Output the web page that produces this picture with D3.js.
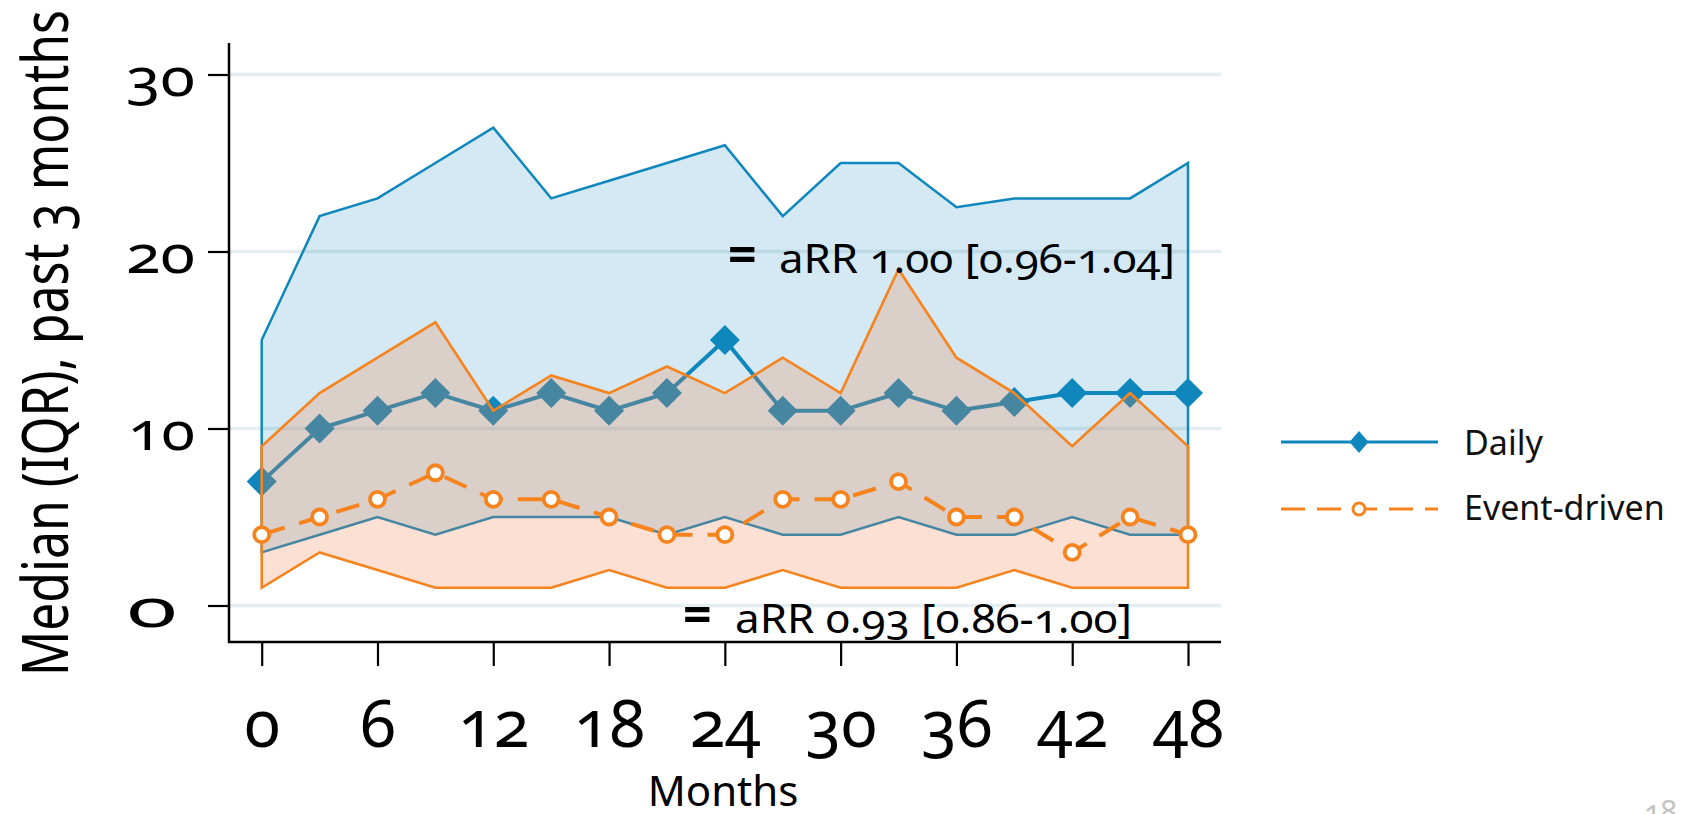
<!DOCTYPE html>
<html>
<head>
<meta charset="utf-8">
<script src="https://cdn.jsdelivr.net/npm/d3@7"></script>
<style>
  html, body { margin: 0; padding: 0; background: #ffffff; }
  svg { display: block; }
  text { font-family: "Noto Sans", "Open Sans", sans-serif; font-variant-numeric: oldstyle-nums; font-feature-settings: "onum" 1; }
</style>
</head>
<body>
<svg id="chart" width="1684" height="814"></svg>
<script>
// ---------------- data ----------------
const months      = [0, 3, 6, 9, 12, 15, 18, 21, 24, 27, 30, 33, 36, 39, 42, 45, 48];
const dailyMedian = [7, 10, 11, 12, 11, 12, 11, 12, 15, 11, 11, 12, 11, 11.5, 12, 12, 12];
const dailyQ1     = [3, 4, 5, 4, 5, 5, 5, 4, 5, 4, 4, 5, 4, 4, 5, 4, 4];
const dailyQ3     = [15, 22, 23, 25, 27, 23, 24, 25, 26, 22, 25, 25, 22.5, 23, 23, 23, 25];
const eventMedian = [4, 5, 6, 7.5, 6, 6, 5, 4, 4, 6, 6, 7, 5, 5, 3, 5, 4];
const eventQ1     = [1, 3, 2, 1, 1, 1, 2, 1, 1, 2, 1, 1, 1, 2, 1, 1, 1];
const eventQ3     = [9, 12, 14, 16, 11, 13, 12, 13.5, 12, 14, 12, 19, 14, 12, 9, 12, 9];
const xTicks      = [0, 6, 12, 18, 24, 30, 36, 42, 48];
const yTicks      = [0, 10, 20, 30];
const seriesNames = ["Daily", "Event-driven"];
const annotations = [
  { eq: "=", text: "aRR 1.00 [0.96-1.04]" },
  { eq: "=", text: "aRR 0.93 [0.86-1.00]" }
];
const yTitle = "Median (IQR), past 3 months";
const xTitle = "Months";
const pageNumber = "18";

// ---------------- styles ----------------
const BLUE = "#0f87bd";
const ORANGE = "#f5841f";
const ORANGE_FILL = "rgb(240,133,78)";

const svg = d3.select("#chart");
const x = d3.scaleLinear().domain([0, 48]).range([261.7, 1188]);
const y = d3.scaleLinear().domain([0, 30]).range([605.5, 74.5]);
const AX_LEFT = 229, AX_RIGHT = 1221, AX_TOP = 43, AX_BOTTOM = 642;

const rows = months.map((m, i) => ({
  m, dMed: dailyMedian[i], dLo: dailyQ1[i], dHi: dailyQ3[i],
  eMed: eventMedian[i], eLo: eventQ1[i], eHi: eventQ3[i]
}));

// gridlines
svg.append("g").selectAll("line").data(yTicks).join("line")
  .attr("x1", AX_LEFT).attr("x2", AX_RIGHT)
  .attr("y1", d => y(d)).attr("y2", d => y(d))
  .attr("stroke", "#e4edf0").attr("stroke-width", 3.5);

// blue IQR band
const bandD = d3.area().x(d => x(d.m)).y0(d => y(d.dLo)).y1(d => y(d.dHi));
svg.append("path").datum(rows).attr("d", bandD)
  .attr("fill", BLUE).attr("fill-opacity", 0.18)
  .attr("stroke", BLUE).attr("stroke-width", 2.5).attr("stroke-linejoin", "miter");

// blue median
svg.append("path").datum(rows)
  .attr("d", d3.line().x(d => x(d.m)).y(d => y(d.dMed)))
  .attr("fill", "none").attr("stroke", BLUE).attr("stroke-width", 4);
const diamond = (h, v) => `M0,${-v}L${h},0L0,${v}L${-h},0Z`;
svg.append("g").selectAll("path").data(rows).join("path")
  .attr("transform", d => `translate(${x(d.m)},${y(d.dMed)})`)
  .attr("d", diamond(15, 15)).attr("fill", BLUE);

// orange IQR band (drawn over the blue series)
const bandE = d3.area().x(d => x(d.m)).y0(d => y(d.eLo)).y1(d => y(d.eHi));
svg.append("path").datum(rows).attr("d", bandE)
  .attr("fill", ORANGE_FILL).attr("fill-opacity", 0.25).attr("stroke", "none");
svg.append("path").datum(rows).attr("d", bandE)
  .attr("fill", "none").attr("stroke", ORANGE).attr("stroke-width", 2.6);

// orange median (dashed)
svg.append("path").datum(rows)
  .attr("d", d3.line().x(d => x(d.m)).y(d => y(d.eMed)))
  .attr("fill", "none").attr("stroke", ORANGE).attr("stroke-width", 4)
  .attr("stroke-dasharray", "24,15");
svg.append("g").selectAll("circle").data(rows).join("circle")
  .attr("cx", d => x(d.m)).attr("cy", d => y(d.eMed)).attr("r", 7.5)
  .attr("fill", "#fff").attr("stroke", ORANGE).attr("stroke-width", 3.8);

// axes
const yAxis = svg.append("g").attr("transform", `translate(${AX_LEFT},0)`)
  .call(d3.axisLeft(y).tickValues(yTicks).tickSize(21).tickFormat(d3.format("d")));
yAxis.select(".domain").remove();
yAxis.selectAll(".tick line").attr("stroke", "#000").attr("stroke-width", 2.2);
const yLen = { "0": 50, "10": 67, "20": 69, "30": 69 };
yAxis.selectAll(".tick text")
  .attr("x", d => d === 0 ? -52 : -34).attr("dy", 0).attr("y", 21)
  .attr("font-size", 52).attr("fill", "#000").attr("font-family", null)
  .attr("text-anchor", "end")
  .attr("textLength", d => yLen[String(d)])
  .attr("lengthAdjust", "spacingAndGlyphs");

const xAxis = svg.append("g").attr("transform", `translate(0,${AX_BOTTOM})`)
  .call(d3.axisBottom(x).tickValues(xTicks).tickSize(24).tickFormat(d3.format("d")));
xAxis.select(".domain").remove();
xAxis.selectAll(".tick line").attr("stroke", "#000").attr("stroke-width", 2.2);
xAxis.selectAll(".tick text")
  .attr("y", 105).attr("dy", 0)
  .attr("font-size", 65).attr("fill", "#000").attr("font-family", null);

// axis lines
svg.append("line").attr("x1", AX_LEFT).attr("x2", AX_LEFT).attr("y1", AX_TOP).attr("y2", AX_BOTTOM + 1)
  .attr("stroke", "#000").attr("stroke-width", 2.5);
svg.append("line").attr("x1", AX_LEFT - 1).attr("x2", AX_RIGHT).attr("y1", AX_BOTTOM).attr("y2", AX_BOTTOM)
  .attr("stroke", "#000").attr("stroke-width", 2.5);

// axis titles
svg.append("text").text(yTitle)
  .attr("transform", "translate(68,343) rotate(-90)")
  .attr("text-anchor", "middle").attr("font-size", 64)
  .attr("textLength", 666).attr("lengthAdjust", "spacingAndGlyphs");
svg.append("text").text(xTitle)
  .attr("x", 723).attr("y", 806).attr("text-anchor", "middle").attr("font-size", 42);

// legend
const leg = svg.append("g");
const legY = [442, 509];
leg.append("line").attr("x1", 1281).attr("x2", 1438).attr("y1", legY[0]).attr("y2", legY[0])
  .attr("stroke", BLUE).attr("stroke-width", 3);
leg.append("path").attr("transform", `translate(1359,${legY[0]})`).attr("d", diamond(9.5, 11)).attr("fill", BLUE);
leg.append("line").attr("x1", 1281).attr("x2", 1438).attr("y1", legY[1]).attr("y2", legY[1])
  .attr("stroke", ORANGE).attr("stroke-width", 3).attr("stroke-dasharray", "24,12");
leg.append("circle").attr("cx", 1359).attr("cy", legY[1]).attr("r", 6)
  .attr("fill", "#fff").attr("stroke", ORANGE).attr("stroke-width", 3);
leg.selectAll("text.lab").data(seriesNames).join("text").attr("class", "lab")
  .attr("x", 1464).attr("y", (d, i) => [455, 520][i])
  .attr("font-size", 34).attr("fill", "#111").text(d => d);

// annotations
const annPos = [
  { eqX: 728, txtX: 779, base: 273, len: 396 },
  { eqX: 683, txtX: 735, base: 633, len: 397 }
];
annotations.forEach((a, i) => {
  const p = annPos[i];
  svg.append("text").attr("x", p.eqX).attr("y", p.base - 1).attr("font-size", 50)
    .attr("font-weight", "bold").text(a.eq);
  svg.append("text").attr("x", p.txtX).attr("y", p.base).attr("font-size", 40)
    .attr("textLength", p.len).attr("lengthAdjust", "spacingAndGlyphs").text(a.text);
});

// page number
svg.append("text").attr("x", 1644).attr("y", 822).attr("font-size", 30)
  .attr("fill", "#c4c4c4").text(pageNumber);
</script>
</body>
</html>
